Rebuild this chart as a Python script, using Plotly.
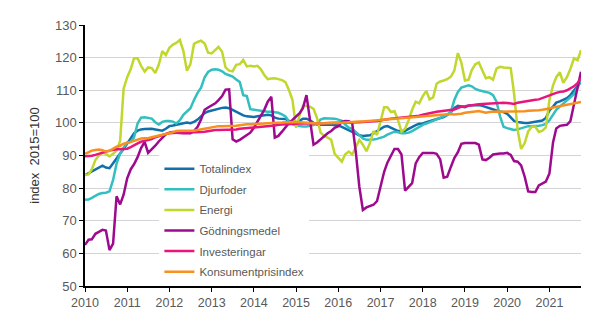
import pandas as pd
import plotly.graph_objects as go

months = pd.date_range("2010-01-01", "2021-10-01", freq="MS")

totalindex = [
    84.0, 84.6, 85.3, 85.9, 86.4, 86.9, 86.3, 86.1, 87.6, 89.2, 90.6, 92.0,
    93.6, 95.0, 96.8, 97.6, 98.0, 98.1, 98.2, 98.2, 98.0, 97.7, 97.6, 98.2,
    99.0, 99.2, 99.4, 99.8, 100.0, 100.1, 99.9, 100.3, 101.0, 102.0, 103.0, 103.5,
    103.8, 104.2, 104.5, 104.6, 104.7, 104.5, 104.0, 103.4, 102.8, 102.3, 102.0, 101.9,
    101.8, 102.0, 102.2, 102.4, 102.5, 102.3, 101.6, 101.3, 101.3, 101.2, 100.6, 100.1,
    100.0, 100.8, 101.3, 101.3, 100.8, 100.0, 99.5, 99.4, 99.3, 99.4, 99.4, 99.3,
    99.2, 98.8, 98.3, 97.8, 97.2, 96.6, 96.2, 96.0, 96.0, 96.2, 96.8, 97.5,
    98.2, 98.8, 99.0, 98.6, 98.0, 97.5, 97.4, 97.6, 98.2, 98.8, 99.3, 99.7,
    99.8, 100.2, 100.5, 100.8, 101.0, 101.4, 101.8, 102.4, 103.2, 104.6, 105.2, 105.0,
    104.8, 105.3, 105.4, 105.5, 105.5, 105.2, 104.8, 104.5, 104.2, 103.8, 103.5, 103.3,
    102.8, 101.8, 100.6, 100.3, 100.1, 100.0, 100.0, 100.2, 100.3, 100.6, 100.7, 101.5,
    103.8, 105.0, 106.2, 106.6, 107.0, 107.6, 108.5, 109.8, 111.0, 112.6,
]

djurfoder = [
    76.4, 76.5, 77.0, 77.6, 78.2, 78.5, 78.6, 79.0, 82.5, 87.5, 90.6, 92.4,
    94.0, 94.2, 95.5, 99.8, 101.6, 101.7, 101.6, 101.3, 100.2, 99.5, 100.3, 100.6,
    100.6, 100.4, 99.8, 100.8, 102.5, 103.6, 104.5, 107.0, 109.2, 110.8, 114.0, 115.6,
    116.3, 116.4, 116.3, 115.8, 115.0, 114.6, 114.2, 113.3, 112.5, 108.5, 108.2, 104.2,
    104.0, 104.0, 103.6, 103.4, 103.4, 103.4, 103.3, 103.1, 102.6, 102.0, 100.4, 99.6,
    99.2, 99.0, 98.9, 98.9, 99.0, 99.3, 99.8, 101.0, 101.4, 101.4, 101.4, 101.3,
    101.0, 100.6, 99.5, 98.5, 98.2, 97.2, 96.0, 95.2, 94.8, 94.8, 94.9, 95.1,
    95.4, 95.8, 96.4, 96.9, 97.3, 97.1, 96.8, 96.8, 97.0, 97.5, 98.2, 98.9,
    99.4, 99.8, 100.2, 100.6, 101.0, 101.5, 102.0, 102.6, 103.4, 107.0, 109.5, 110.8,
    111.2, 111.5, 111.2, 110.4, 110.0, 109.7, 109.4, 109.2, 108.5, 106.5, 102.0, 98.8,
    98.4, 98.0, 97.8, 98.0, 98.4, 98.8, 99.0, 99.0, 99.0, 99.1, 99.3, 99.7,
    100.8, 102.5, 104.0, 105.0, 106.0, 106.8, 107.8, 108.8, 110.8, 113.0,
]

energi = [
    84.0, 84.2, 85.8, 88.6, 90.0, 90.8, 90.5, 89.7, 90.5, 91.5, 94.5, 110.5,
    114.0, 116.5, 119.8, 119.8, 117.5, 115.7, 117.0, 116.8, 115.3, 117.8, 122.0, 120.8,
    123.0, 124.0, 124.5, 125.4, 122.0, 116.0, 118.0, 124.2, 124.8, 125.2, 124.3, 121.5,
    121.3, 122.5, 123.3, 121.8, 117.0, 116.0, 115.8, 117.8, 118.0, 119.3, 117.3, 117.5,
    117.3, 117.5, 116.5, 114.7, 113.4, 113.6, 113.7, 113.4, 113.1, 112.5, 110.0, 107.0,
    98.5, 102.4, 105.2, 105.2, 105.0, 104.3, 101.5, 97.0, 96.0, 95.5, 94.8, 90.5,
    89.2, 88.1, 90.4, 91.2, 90.3, 92.5, 94.8, 93.3, 91.3, 93.8, 97.5, 96.3,
    100.9, 104.8, 104.8, 103.3, 103.6, 100.8, 97.3, 98.2, 100.8, 104.0, 106.5, 106.0,
    108.2, 109.8, 107.2, 107.8, 112.0, 112.7, 113.0, 113.4, 114.2, 116.0, 121.4, 118.5,
    113.0, 113.2, 116.2, 118.0, 118.5, 116.0, 113.7, 114.0, 113.2, 116.6, 117.2, 117.0,
    117.0, 116.8, 109.0, 97.8, 92.0, 93.8, 97.4, 98.8, 98.8, 97.2, 97.6, 98.6,
    107.0, 111.5, 114.0, 115.5, 112.3, 114.0, 116.5, 119.8, 119.2, 122.3,
]

godningsmedel = [
    62.6, 64.2, 64.3, 66.0, 66.6, 67.2, 67.0, 61.0, 63.0, 77.5, 75.0, 78.0,
    83.0, 85.8, 87.3, 89.5, 92.3, 94.2, 90.8, 91.8, 93.0, 94.3, 95.5, 96.5,
    97.0, 97.2, 97.0, 96.8, 96.8, 96.8, 96.8, 97.5, 98.8, 101.0, 104.0, 104.7,
    105.3, 106.0, 107.0, 108.2, 110.2, 110.3, 95.0, 94.3, 94.8, 95.6, 96.3, 97.0,
    98.5, 100.5, 102.0, 104.0, 106.5, 108.0, 95.5, 96.0, 97.3, 98.8, 100.0, 100.9,
    102.0, 103.0, 104.5, 108.5, 101.0, 93.3, 94.0, 95.0, 96.0, 96.8, 97.5, 98.5,
    99.0, 100.3, 100.6, 100.5, 99.8, 91.0, 80.5, 73.3, 74.1, 74.4, 74.9, 76.0,
    81.0, 85.0, 87.8, 90.0, 92.0, 92.0, 90.3, 79.2, 80.3, 81.5, 87.6, 89.5,
    90.8, 90.8, 90.8, 90.8, 90.5, 88.8, 83.2, 83.5, 86.5, 89.2, 91.0, 93.6,
    93.8, 93.8, 93.8, 93.8, 93.3, 88.8, 88.6, 89.3, 90.3, 90.5, 90.6, 90.6,
    90.8, 90.2, 88.3, 88.1, 87.0, 83.5, 79.0, 78.8, 78.8, 80.8, 81.4, 82.0,
    84.5, 94.0, 98.3, 99.1, 99.3, 99.4, 100.5, 106.0, 111.5, 115.7,
]

investeringar = [
    89.8, 89.8, 89.9, 90.2, 90.6, 91.0, 91.2, 91.5, 91.8, 91.9, 91.9, 92.0,
    92.1, 92.6, 93.2, 93.7, 94.2, 94.5, 94.6, 95.0, 95.6, 96.0, 96.4, 96.6,
    96.8, 97.0, 97.0, 97.0, 97.0, 97.0, 97.0, 97.1, 97.1, 97.2, 97.3, 97.5,
    97.7, 97.8, 97.8, 97.8, 97.8, 97.8, 97.8, 98.0, 98.2, 98.3, 98.3, 98.3,
    98.4, 98.5, 98.6, 98.7, 98.8, 99.0, 99.2, 99.4, 99.5, 99.6, 99.7, 99.8,
    99.8, 99.8, 99.8, 99.8, 99.7, 99.7, 99.7, 99.8, 99.9, 100.0, 100.0, 100.1,
    100.1, 100.1, 100.1, 100.1, 100.1, 100.2, 100.2, 100.3, 100.3, 100.4, 100.5, 100.6,
    100.7, 100.9, 101.1, 101.3, 101.4, 101.4, 101.5, 101.6, 101.7, 101.8, 101.9, 102.2,
    102.5, 102.8, 103.0, 103.2, 103.4, 103.5, 103.6, 103.8, 104.0, 104.1, 104.5, 105.0,
    105.1, 105.3, 105.3, 105.5, 105.7, 105.8, 105.9, 106.0, 106.1, 106.1, 106.2, 106.2,
    106.1, 106.0, 105.8, 106.2, 106.4, 106.7, 106.9, 107.0, 107.1, 107.2, 107.6, 108.1,
    108.6, 108.8, 109.2, 109.5, 109.6, 110.0, 110.5, 111.2, 112.2, 113.8,
]

konsumentprisindex = [
    90.5, 91.0, 91.5, 91.7, 91.8, 91.6, 91.2, 91.4, 92.2, 92.7, 93.0, 93.6,
    93.8, 94.2, 94.5, 94.9, 95.2, 95.3, 95.3, 95.6, 95.9, 96.1, 96.4, 96.6,
    96.8, 97.2, 97.5, 97.6, 97.6, 97.5, 97.6, 97.6, 97.8, 98.0, 98.2, 98.6,
    98.8, 99.0, 99.0, 99.0, 99.0, 99.0, 99.0, 99.1, 99.3, 99.5, 99.6, 99.6,
    99.6, 99.7, 99.8, 99.8, 99.9, 99.9, 100.0, 100.1, 100.1, 100.2, 100.3, 100.3,
    100.3, 100.2, 100.1, 100.0, 99.9, 99.8, 99.8, 99.8, 99.9, 100.0, 100.0, 100.0,
    100.0, 100.1, 100.2, 100.2, 100.3, 100.3, 100.4, 100.4, 100.5, 100.6, 100.7, 100.8,
    100.9, 101.0, 101.1, 101.1, 101.2, 101.3, 101.3, 101.4, 101.5, 101.6, 101.7, 101.8,
    102.0, 102.2, 102.3, 102.4, 102.5, 102.6, 102.6, 102.6, 102.7, 102.6, 102.6, 102.8,
    103.1, 103.3, 103.4, 103.5, 103.6, 103.4, 103.1, 103.3, 103.5, 103.5, 103.4, 103.4,
    103.4, 103.4, 103.5, 103.6, 103.6, 103.6, 103.7, 103.7, 103.8, 103.9, 104.0, 104.1,
    104.4, 104.7, 104.9, 105.1, 105.3, 105.5, 105.7, 105.9, 106.2, 106.4,
]

series_names = ["Totalindex", "Djurfoder", "Energi", "Gödningsmedel",
                "Investeringar", "Konsumentprisindex"]
series_values = [totalindex, djurfoder, energi, godningsmedel,
                 investeringar, konsumentprisindex]
series_colors = ["#1170AA", "#33BFBF", "#C1D72E", "#9E0A8E", "#E8157C", "#F7901E"]

year_ticks = [f"{y}-01-01" for y in range(2010, 2022)]
year_labels = [str(y) for y in range(2010, 2022)]

FONT = "Liberation Sans, Arial, sans-serif"
GREY = "#595959"

fig = go.Figure()
for name, vals, col in zip(series_names, series_values, series_colors):
    fig.add_trace(go.Scatter(x=months, y=vals, name=name, mode="lines",
                             legendgroup=name,
                             line=dict(color=col, width=2.5)))

fig.update_layout(
    width=609, height=321,
    margin=dict(l=85, r=28, t=25, b=35),
    paper_bgcolor="white", plot_bgcolor="white",
    font=dict(family=FONT, color=GREY, size=12),
    showlegend=True,
    legend=dict(x=0.15, y=0.505, xanchor="left", yanchor="top",
                bgcolor="white", borderwidth=0,
                font=dict(family=FONT, size=11.5, color=GREY),
                tracegroupgap=1.6,
                itemwidth=30),
)
fig.update_xaxes(
    range=["2010-01-01", "2021-10-01"],
    tickvals=year_ticks, ticktext=year_labels,
    showgrid=False, zeroline=False,
    showline=True, linecolor="black", linewidth=1.5,
    ticks="outside", ticklen=4, tickcolor="black",
    tickfont=dict(size=12.5, color=GREY),
)
fig.update_yaxes(
    range=[50, 130], dtick=10,
    showgrid=True, gridcolor="#D4D4D8", gridwidth=1,
    zeroline=False,
    showline=True, linecolor="black", linewidth=1.5,
    ticks="outside", ticklen=4, tickcolor="black",
    tickfont=dict(size=13, color=GREY),
    title=dict(text="index  2015=100", font=dict(size=13, color="#333333"), standoff=12),
)

fig.write_html("out.html")
